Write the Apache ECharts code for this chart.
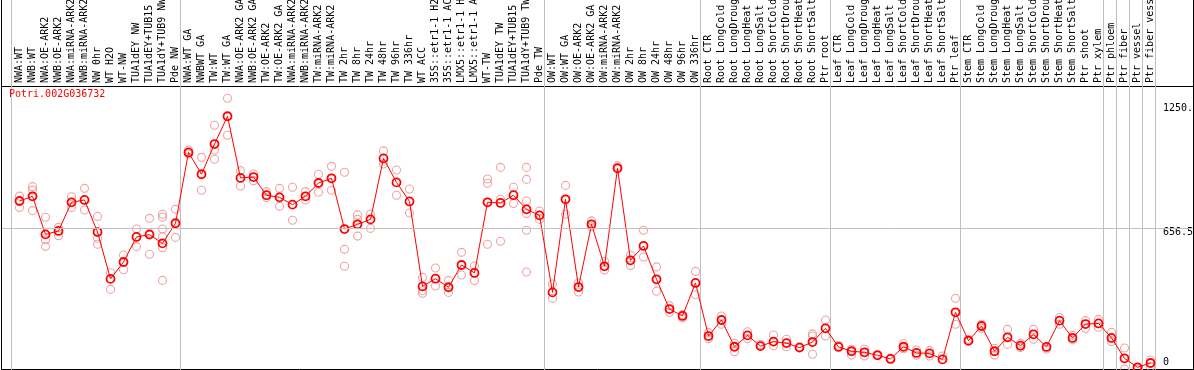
<!DOCTYPE html>
<html><head><meta charset="utf-8">
<script src="https://cdn.jsdelivr.net/npm/echarts@6/dist/echarts.min.js"></script>
<style>html,body{margin:0;padding:0;background:#fff}#c{width:1194px;height:370px}</style>
</head><body><div id="c"></div>
<script>
const geneId = 'Potri.002G036732';
const categories = [
 'NWA:WT','NWB:WT','NWA:OE-ARK2','NWB:OE-ARK2','NWA:miRNA-ARK2','NWB:miRNA-ARK2','NW 0hr','WT H2O','WT-NW','TUA1dEY NW','TUA1dEY+TUB15 NW','TUA1dY+TUB9 NW','Pde NW',
 'NWA:WT GA','NWBWT GA','TW:WT','TW:WT GA','NWA:OE-ARK2 GA','NWB:OE-ARK2 GA','TW:OE-ARK2','TW:OE-ARK2 GA','NWA:miRNA-ARK2 GA','NWB:miRNA-ARK2 GA','TW:miRNA-ARK2','TW:miRNA-ARK2 GA',
 'TW 2hr','TW 8hr','TW 24hr','TW 48hr','TW 96hr','TW 336hr','WT ACC','35S::etr1-1 H2O','35S::etr1-1 ACC','LMX5::etr1-1 H2O','LMX5::etr1-1 ACC','WT-TW','TUA1dEY TW','TUA1dEY+TUB15 TW','TUA1dY+TUB9 TW','Pde TW',
 'OW:WT','OW:WT GA','OW:OE-ARK2','OW:OE-ARK2 GA','OW:miRNA-ARK2','OW:miRNA-ARK2 GA','OW 2hr','OW 8hr','OW 24hr','OW 48hr','OW 96hr','OW 336hr',
 'Root CTR','Root LongCold','Root LongDrought','Root LongHeat','Root LongSalt','Root ShortCold','Root ShortDrought','Root ShortHeat','Root ShortSalt','Ptr root',
 'Leaf CTR','Leaf LongCold','Leaf LongDrought','Leaf LongHeat','Leaf LongSalt','Leaf ShortCold','Leaf ShortDrought','Leaf ShortHeat','Leaf ShortSalt','Ptr leaf',
 'Stem CTR','Stem LongCold','Stem LongDrought','Stem LongHeat','Stem LongSalt','Stem ShortCold','Stem ShortDrought','Stem ShortHeat','Stem ShortSalt','Ptr shoot','Ptr xylem',
 'Ptr phloem','Ptr fiber','Ptr vessel','Ptr fiber vessel'
];
const means = [
 785,807,629,645,779,790,640,421,500,617,628,587,681,
 1012,910,1051,1181,893,897,812,802,768,807,869,891,654,676,699,984,872,783,386,422,382,486,449,779,776,812,746,718,
 358,793,383,676,480,938,508,575,419,280,248,402,
 154,229,104,157,107,128,121,100,126,190,
 103,83,78,64,47,104,75,73,45,265,
 132,201,83,148,109,162,103,226,145,210,213,
 145,50,8,28
];
const replicates = [
 [808,755],[852,836,740],[709,603,573],[662,623],[805,755],[844,743],[713,611,583],[450,372],[533,464],[654,572],[704,634,536],[723,709,654,618,567,414],[746,615],
 [1023,1005],[989,835],[1139,1023,980],[1265,1092],[927,855],[911,880],[829,801],[844,760],[849,695],[829,790],[910,826],[947,835],[919,559,480],[720,699,621],[723,657],[1019,958],[930,812],[841,729],[428,366,354],[472,388],[413,358],[545,439],[481,413],[888,868,583],[942,793,597],[849,773],[942,886,785,727,648,453],[738,699],
 [397,330],[858,723],[403,360],[692,665],[502,463],[949],[533,484],[648,523],[477,363],[296,265],[255,238],[456,347],
 [170,142],[248,209],[120,81],[174,142],[115],[159,109],[139,104],[104],[164,154,69],[229,154],
 [111],[92,65],[92,61],[69],[51],[118,95],[89,64],[86,61],[61],[330,209],
 [139],[209,190],[97,65],[185,115],[120,100],[185,139],[93],[241,209],[157,136],[226,190],[232,195],
 [171,128],[98,0],[0],[42,11]
];
const groupStarts = [0,13,41,53,63,73,84,85,86,87,88];
const midLine = 656.5;
const yTickValues = [0, 656.5, 1250];
const yTickLabels = ['0', '656.5', '1250.0'];

const mono = 'DejaVu Sans Mono';
const chart = echarts.init(document.getElementById('c'), null, {renderer:'canvas', width:1194, height:370});

const meanData = means.map((v,i)=>[i,v]);
const repData = [];
replicates.forEach((arr,i)=>arr.forEach(v=>repData.push([i,v])));
const sepData = groupStarts.map(g=>[g - 8/13, 0]);
const labelStyleKey = {'0':'b','656.5':'m','1250':'t'};

const option = {
  animation:false,
  backgroundColor:'#ffffff',
  grid:[
    {left:1.5, top:86.5, width:1192, height:283, show:true, borderColor:'#000', borderWidth:1, backgroundColor:'rgba(0,0,0,0)', containLabel:false, outerBoundsMode:'none'},
    {left:13, top:86, width:1144, height:283, show:false, containLabel:false, outerBoundsMode:'none'}
  ],
  xAxis:[
    {type:'value', gridIndex:0, min:-18/13, max:1174/13, show:false},
    {type:'category', gridIndex:1, position:'top', data:categories,
     axisLine:{show:false}, axisTick:{show:false}, splitLine:{show:false},
     axisLabel:{interval:0, rotate:90, fontFamily:mono, fontSize:10, color:'#000', margin:3, hideOverlap:false}}
  ],
  yAxis:[
    {type:'value', gridIndex:0, min:-2.3, max:1320, position:'right', offset:-31.5,
     axisLine:{show:false}, axisTick:{show:false}, splitLine:{show:false},
     axisLabel:{customValues:yTickValues, margin:1,
       formatter:function(v){const k=yTickValues.indexOf(v); if(k<0) return ''; return '{'+labelStyleKey[String(v)]+'|'+yTickLabels[k]+'}';},
       rich:{
         t:{fontFamily:mono,fontSize:10,color:'#000',padding:[13,0,0,0]},
         m:{fontFamily:mono,fontSize:10,color:'#000',padding:[8,0,0,0]},
         b:{fontFamily:mono,fontSize:10,color:'#000',padding:[0,0,14,0]}
       }}},
    {type:'value', gridIndex:1, show:false}
  ],
  graphic:[
    {type:'line', shape:{x1:1.5,y1:0,x2:1.5,y2:370}, style:{stroke:'#000',lineWidth:1}, z:100},
    {type:'line', shape:{x1:1193.5,y1:0,x2:1193.5,y2:370}, style:{stroke:'#000',lineWidth:1}, z:100},
    {type:'text', left:9, top:89.5, style:{text:geneId, fill:'#ff0000', font:'10px "DejaVu Sans Mono"'}, z:100}
  ],
  series:[
    {type:'custom', xAxisIndex:0, yAxisIndex:0, clip:false, silent:true, z:1,
     data:sepData, encode:{x:0,y:1},
     renderItem:function(params, api){
       const x = Math.floor(api.coord([api.value(0), 0])[0]) + 0.5;
       return {type:'line', shape:{x1:x,y1:0,x2:x,y2:api.getHeight()}, style:{stroke:'#c0c0c0', lineWidth:1}};
     },
     markLine:{silent:true, symbol:'none', animation:false, label:{show:false},
       lineStyle:{color:'#c0c0c0', width:1, type:'solid'}, data:[{yAxis:midLine}]}
    },
    {type:'scatter', xAxisIndex:0, yAxisIndex:0, z:2, data:repData, symbol:'circle', symbolSize:8,
     itemStyle:{color:'rgba(0,0,0,0)', borderColor:'#e88f8f', borderWidth:1.1}},
    {type:'line', xAxisIndex:0, yAxisIndex:0, z:3, data:meanData, symbol:'circle', symbolSize:8,
     lineStyle:{color:'#ff0000', width:1},
     itemStyle:{color:'rgba(0,0,0,0)', borderColor:'#ff0000', borderWidth:1.8}}
  ]
};
chart.setOption(option);
</script>
</body></html>
